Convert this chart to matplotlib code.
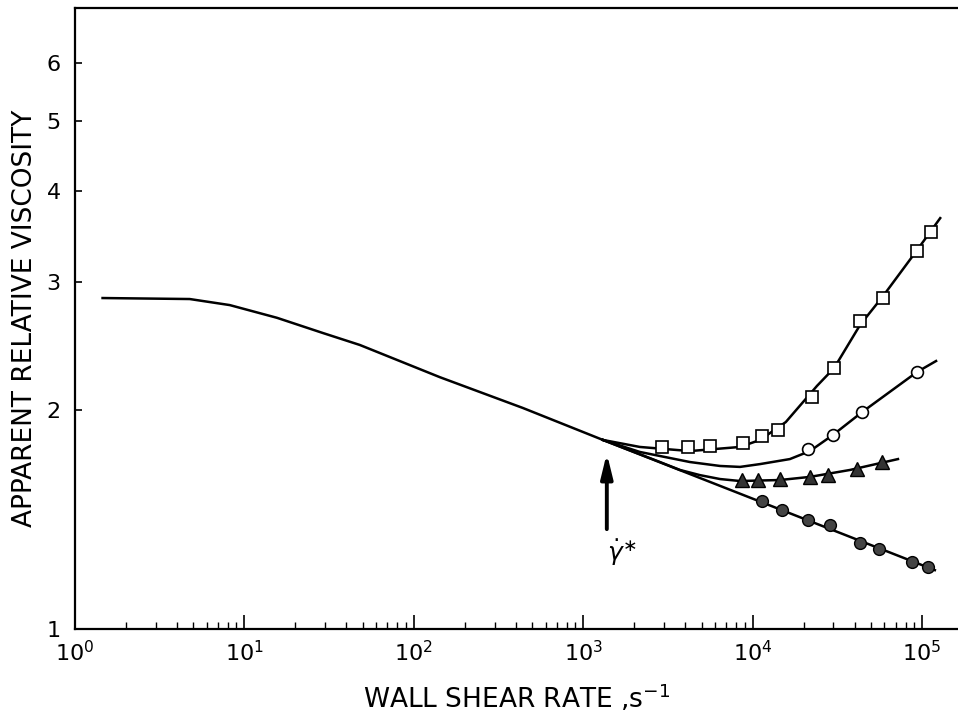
"""
Apparent relative viscosity vs wall shear rate (log-log), redrawn from a scanned figure.
"""

import matplotlib
matplotlib.use("Agg")
import matplotlib.pyplot as plt
from matplotlib.ticker import FixedLocator, NullLocator, LogLocator, NullFormatter
import numpy as np

# --- data ----------------------------------------------------------------
# common curve (low shear plateau and shear-thinning branch)
main_x = [1.46, 4.77, 8.22, 15.6, 29.1, 48.1, 143, 441, 1309]
main_y = [2.853, 2.844, 2.79, 2.68, 2.554, 2.459, 2.22, 2.014, 1.82]

# branches beyond the critical shear rate
line_x = [1309, 1.19e5]
line_y = [1.82, 1.205]

upper_x = [1309, 2163, 4270, 8430, 1.107e4, 1.57e4, 2.4e4, 3.03e4, 4.31e4, 5.89e4, 9.34e4, 1.28e5]
upper_y = [1.82, 1.78, 1.757, 1.78, 1.82, 1.926, 2.16, 2.286, 2.62, 2.871, 3.32, 3.675]

mid_x = [1309, 2163, 4270, 6427, 8430, 1.107e4, 1.66e4, 2.18e4, 2.98e4, 4.43e4, 9.34e4, 1.21e5]
mid_y = [1.82, 1.752, 1.697, 1.676, 1.671, 1.686, 1.713, 1.757, 1.849, 1.988, 2.257, 2.337]

tri_x = [1309, 2840, 3727, 4896, 6427, 8430, 1.45e4, 2.18e4, 3.76e4, 7.21e4]
tri_y = [1.82, 1.697, 1.655, 1.628, 1.608, 1.598, 1.603, 1.619, 1.655, 1.713]

# measured points
sq_x = [2.92e3, 4.14e3, 5.6e3, 8.77e3, 1.14e4, 1.41e4, 2.24e4, 3.02e4, 4.31e4, 5.89e4, 9.34e4, 1.13e5]
sq_y = [1.78, 1.78, 1.785, 1.80, 1.843, 1.878, 2.085, 2.285, 2.653, 2.853, 3.31, 3.516]

oc_x = [2.12e4, 2.98e4, 4.43e4, 9.34e4]
oc_y = [1.77, 1.85, 1.99, 2.26]

tr_x = [8.65e3, 1.08e4, 1.45e4, 2.18e4, 2.79e4, 4.13e4, 5.81e4]
tr_y = [1.603, 1.603, 1.607, 1.619, 1.628, 1.66, 1.697]

fc_x = [1.14e4, 1.49e4, 2.12e4, 2.86e4, 4.31e4, 5.6e4, 8.7e4, 1.09e5]
fc_y = [1.50, 1.458, 1.413, 1.39, 1.313, 1.288, 1.236, 1.217]

gamma_crit = 1380
arrow_y = (1.36, 1.76)

y_ticks = [1, 2, 3, 4, 5, 6]

plt.rcParams.update({
    'font.family': 'DejaVu Sans',
    'font.size': 16,
    'mathtext.fontset': 'dejavusans',
    'axes.linewidth': 1.6,
})

fig = plt.figure(figsize=(9.58, 7.15), dpi=100)
ax = fig.add_axes([0.078, 0.1203, 0.922, 0.8685])

lw = 1.8
ax.plot(main_x, main_y, color='black', lw=lw)
ax.plot(line_x, line_y, color='black', lw=lw)
ax.plot(upper_x, upper_y, color='black', lw=lw)
ax.plot(mid_x, mid_y, color='black', lw=lw)
ax.plot(tri_x, tri_y, color='black', lw=lw)

ax.plot(sq_x, sq_y, 's', ms=8.5, mfc='white', mec='black', mew=1.2, zorder=3)
ax.plot(oc_x, oc_y, 'o', ms=8.5, mfc='white', mec='black', mew=1.2, zorder=3)
ax.plot(tr_x, tr_y, '^', ms=10, mfc='#333333', mec='black', mew=1.0, zorder=3)
ax.plot(fc_x, fc_y, 'o', ms=8.5, mfc='#444444', mec='black', mew=1.0, zorder=3)

# critical shear rate marker
ax.annotate('', xy=(gamma_crit, arrow_y[1]), xytext=(gamma_crit, arrow_y[0]),
            arrowprops=dict(arrowstyle='-|>,head_width=0.22,head_length=0.9',
                            color='black', lw=2.8))
ax.text(gamma_crit, arrow_y[0] * 0.985, r'$\dot{\gamma}^{\ast}$', fontsize=18,
        ha='left', va='top')

ax.set_xscale('log')
ax.set_yscale('log')
ax.set_xlim(1, 1.63e5)
ax.set_ylim(1, 7.15)

ax.yaxis.set_major_locator(FixedLocator(y_ticks))
ax.yaxis.set_minor_locator(NullLocator())
ax.set_yticklabels([str(t) for t in y_ticks])
ax.xaxis.set_major_locator(LogLocator(base=10, numticks=10))
ax.xaxis.set_minor_locator(LogLocator(base=10, subs=np.arange(2, 10), numticks=20))
ax.xaxis.set_minor_formatter(NullFormatter())

ax.tick_params(axis='x', which='major', direction='in', length=10, width=1.2, pad=8, labelsize=16)
ax.tick_params(axis='x', which='minor', direction='in', length=5, width=1.0)
ax.tick_params(axis='y', which='major', direction='in', length=5, width=1.2, pad=10, labelsize=16)

ax.spines['right'].set_visible(False)

ax.set_xlabel(r'WALL SHEAR RATE ,s$^{-1}$', fontsize=19)
ax.set_ylabel('APPARENT RELATIVE VISCOSITY', fontsize=19)
ax.xaxis.set_label_coords(0.5, -0.086)
ax.yaxis.set_label_coords(-0.042, 0.5)

fig.savefig('out.png', dpi=100)
